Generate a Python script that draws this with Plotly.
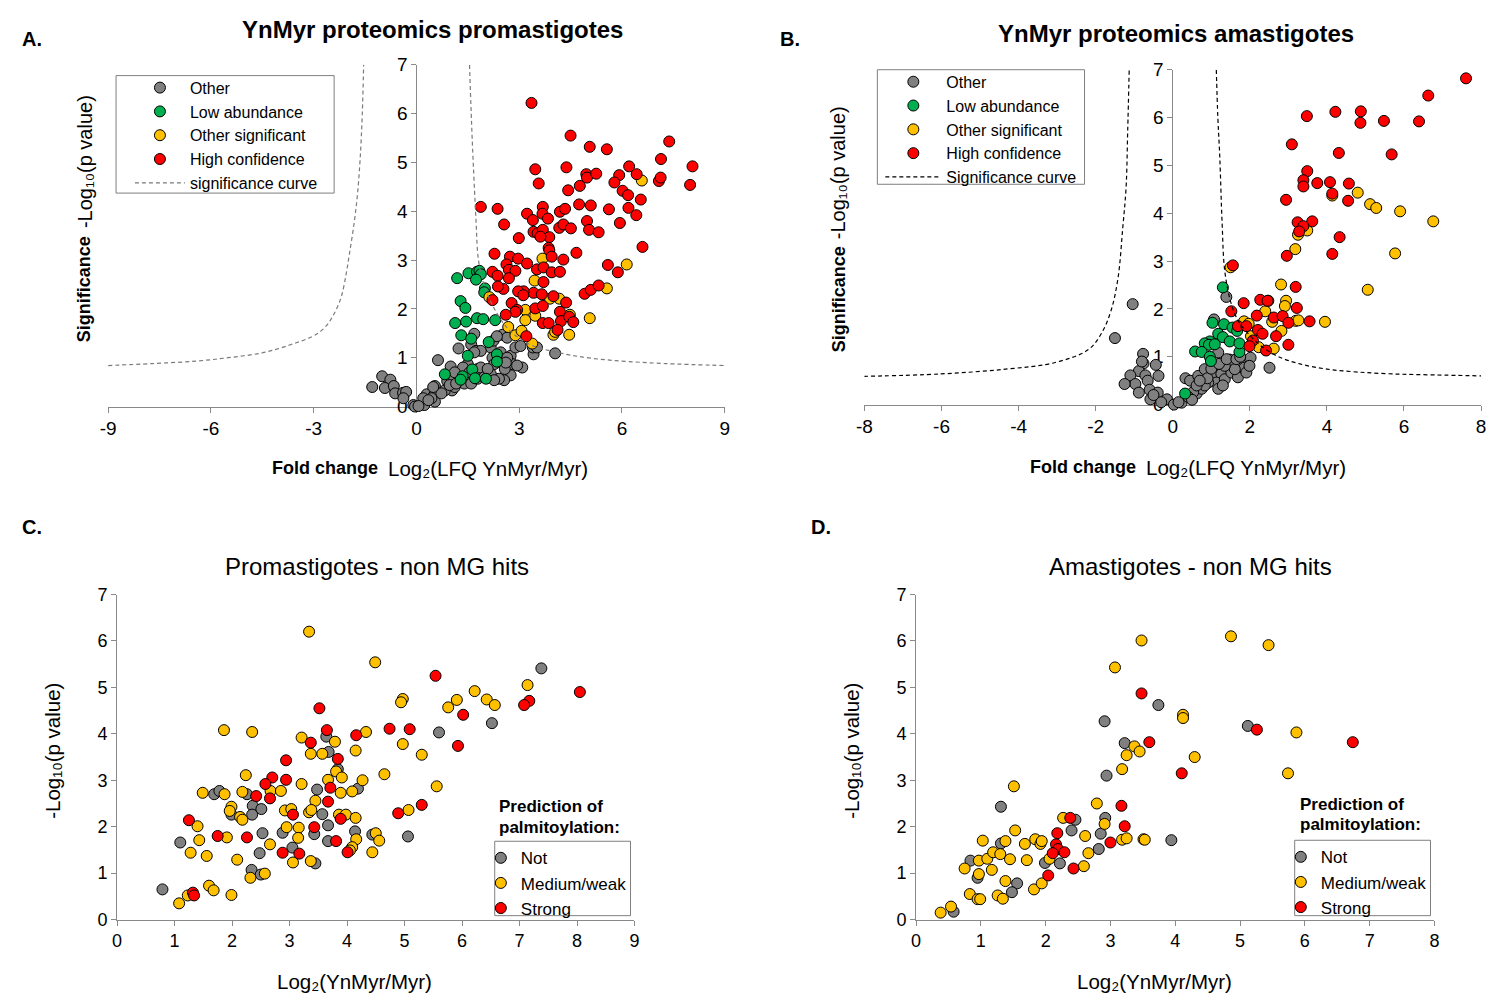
import plotly.graph_objects as go

# ---------------- DATA ----------------
# Panel A: YnMyr proteomics promastigotes  (log2 fold change, -log10 p)
A_other = [(-1.29,0.40),(-1.00,0.62),(-0.76,0.55),(-0.92,0.38),(-0.66,0.42),(-0.62,0.27),(-0.39,0.28),(-0.30,0.30),
           (-0.38,0.17),(-0.09,0.03),(-0.04,0.00),(0.23,0.03),(0.30,0.25),(0.54,0.27),(0.54,0.42),(0.54,0.10),
           (0.63,0.95),(1.00,0.82),(0.90,0.52),(1.10,0.60),(1.04,0.33),(1.12,0.40),(1.23,1.19),(1.69,1.49),
           (1.60,1.27),(1.74,1.14),(1.50,0.87),(1.36,0.80),(1.55,0.70),(1.40,0.47),(1.60,0.47),(1.79,0.57),
           (1.79,0.77),(1.88,0.80),(2.17,1.21),(2.25,1.35),(2.22,1.00),(2.46,1.11),(2.51,1.47),(2.65,1.41),
           (2.75,1.04),(2.80,0.87),(2.89,1.21),(3.04,1.24),(3.09,0.80),(2.75,0.64),(2.56,0.54),(2.41,0.57),
           (3.42,1.07),(3.40,1.21),(3.52,1.21),(4.05,1.09),(2.27,0.87),(2.17,0.67),(1.98,0.60),(0.83,0.33),
           (0.73,0.27),(0.44,0.17),(0.20,0.17),(0.97,0.44),(1.16,0.47),(2.08,0.77),(2.58,0.77),(2.65,1.00),
           (2.61,0.90),(2.94,0.84),(2.27,0.54),(0.49,0.40),(0.35,0.13),(0.06,0.01),(1.12,0.70),(1.88,1.14),
           (1.69,1.11),(2.35,1.44)]
A_low = [(1.19,2.63),(1.52,2.73),(1.77,2.76),(1.84,2.78),(1.88,2.71),(1.74,2.60),(2.00,2.42),(1.98,2.34),
         (1.29,2.16),(1.43,2.02),(1.45,1.74),(1.13,1.71),(1.77,1.81),(1.95,1.79),(2.30,1.77),(1.31,1.46),
         (1.60,1.39),(2.11,1.32),(1.50,1.04),(2.35,1.07),(2.35,0.92),(0.83,0.66),(1.35,0.62),(1.29,0.55),
         (1.63,0.76),(1.71,0.58),(2.03,0.57)]
A_sig = [(3.68,3.03),(3.45,2.58),(6.58,4.63),(6.14,2.91),(5.56,2.42),(5.06,1.81),(4.46,1.47),(4.00,1.47),
         (4.05,1.53),(3.38,1.29),(3.18,1.98),(3.18,1.77),(3.47,1.86),(2.68,1.63),(2.89,1.46),(3.07,1.55),
         (3.90,2.21),(4.17,2.21),(2.13,2.24),(4.48,1.88)]
A_high = [(3.36,6.22),(4.50,5.55),(5.06,5.32),(5.56,5.27),(7.38,5.43),(3.47,4.86),(4.38,4.90),(3.57,4.57),
          (4.96,4.76),(4.98,4.69),(5.25,4.77),(5.92,4.74),(6.21,4.92),(6.43,4.76),(7.14,5.07),(8.06,4.92),
          (7.08,4.62),(7.13,4.69),(7.99,4.54),(5.78,4.59),(6.02,4.42),(6.18,4.33),(4.43,4.43),(4.77,4.52),
          (1.88,4.09),(2.37,4.05),(2.56,3.73),(3.23,3.95),(3.40,3.82),(3.69,4.09),(3.68,3.95),(3.84,3.85),
          (2.99,3.45),(3.42,3.58),(3.54,3.55),(3.69,3.62),(3.88,3.47),(3.62,3.48),(4.19,3.99),(4.34,4.05),
          (4.17,3.66),(4.29,3.73),(4.51,3.65),(4.75,4.14),(5.09,4.12),(4.98,3.80),(5.04,3.62),(5.32,3.57),
          (5.62,4.04),(5.94,3.76),(6.55,4.24),(6.19,4.07),(6.42,3.92),(6.60,3.27),(3.86,3.25),(3.88,3.20),
          (3.95,3.07),(2.28,3.13),(2.73,3.07),(2.97,3.03),(3.23,2.93),(3.52,2.81),(3.71,2.85),(4.29,3.01),
          (4.67,3.15),(2.22,2.76),(2.37,2.68),(2.63,2.91),(2.70,2.80),(2.89,2.78),(2.70,2.63),(2.54,2.41),
          (2.38,2.46),(2.22,2.18),(3.95,2.75),(4.19,2.76),(4.00,2.26),(3.71,2.55),(3.42,2.33),(3.13,2.36),
          (2.97,2.36),(3.12,2.28),(3.66,2.30),(4.37,2.13),(2.78,2.12),(2.94,1.98),(3.47,2.01),(3.69,2.06),
          (2.89,1.94),(2.61,1.88),(3.69,1.71),(3.86,1.71),(4.19,1.94),(4.22,1.75),(4.46,1.84),(4.58,1.73),
          (4.12,1.57),(4.91,2.31),(5.09,2.39),(5.32,2.48),(5.59,2.90),(5.88,2.75),(3.21,1.44)]
A_curve_left = [(-9.0,0.84),(-7.7,0.88),(-6.44,0.93),(-5.5,1.0),(-4.5,1.10),(-3.7,1.26),(-3.05,1.43),
                (-2.8,1.54),(-2.6,1.68),(-2.45,1.84),(-2.3,2.05),(-2.18,2.28),(-2.05,2.72),(-1.95,3.15),
                (-1.82,3.75),(-1.72,4.35),(-1.64,5.1),(-1.58,6.0),(-1.54,7.0)]
A_curve_right = [(1.55,7.0),(1.60,6.0),(1.64,5.29),(1.74,3.82),(1.81,3.01),(1.98,2.48),(2.27,2.01),
                 (2.65,1.61),(3.0,1.40),(3.42,1.24),(4.38,1.07),(5.1,0.99),(5.83,0.94),(7.27,0.88),(9.0,0.84)]

# Panel B: YnMyr proteomics amastigotes
B_other = [(-1.04,2.10),(-1.50,1.39),(-0.77,1.06),(-0.76,0.86),(-0.44,0.83),(-0.37,0.60),(-0.88,0.70),
           (-1.10,0.61),(-0.71,0.61),(-0.97,0.43),(-1.25,0.43),(-0.65,0.50),(-0.60,0.31),(-0.88,0.25),
           (-0.39,0.25),(-0.58,0.11),(-0.15,0.11),(0.03,0.00),(0.23,0.04),(0.33,0.55),(0.45,0.50),(0.62,0.23),
           (0.66,0.60),(0.83,0.74),(1.07,1.78),(1.18,1.09),(1.39,2.25),(1.48,0.94),(1.50,0.84),(1.78,0.83),
           (1.86,0.77),(2.02,0.98),(2.51,0.77),(1.09,0.64),(1.26,0.64),(1.13,0.46),(1.35,0.53),(1.52,0.67),
           (1.69,0.57),(1.91,0.67),(1.99,0.81),(0.92,0.46),(0.75,0.33),(0.53,0.26),(0.40,0.16),(0.83,0.40),
           (1.18,0.33),(1.61,0.74),(1.35,0.81),(0.62,0.40),(0.15,0.05),(0.90,0.55),(1.00,0.75),(1.20,0.85),
           (1.40,0.95),(1.65,0.95),(1.75,1.00),(0.70,0.50),(1.30,0.40),(0.50,0.10),(-0.30,0.05),(-0.50,0.20),
           (-0.80,0.90)]
B_low = [(1.30,2.45),(1.03,1.71),(1.33,1.68),(1.55,1.61),(1.67,1.54),(1.18,1.48),(1.30,1.41),(1.48,1.32),
         (0.96,1.32),(0.83,1.28),(0.94,1.25),(1.09,1.26),(0.58,1.11),(0.75,1.10),(0.96,1.00),(0.99,0.91),
         (1.73,1.10),(1.73,1.28),(0.32,0.23)]
B_sig = [(4.80,4.43),(5.12,4.19),(5.28,4.11),(5.90,4.04),(6.76,3.83),(5.77,3.16),(5.06,2.40),(3.49,3.64),
         (3.25,3.55),(3.18,3.25),(4.14,4.37),(1.50,2.87),(2.81,2.51),(2.94,2.17),(2.91,2.06),(2.40,1.95),
         (2.48,2.17),(1.85,1.74),(1.97,1.69),(2.58,1.73),(3.19,1.75),(3.26,1.76),(3.95,1.73),(2.82,1.54),
         (2.23,1.20),(2.62,1.17),(2.03,1.43)]
B_high = [(7.61,6.82),(6.63,6.46),(3.48,6.03),(4.22,6.12),(4.88,6.13),(4.87,5.89),(5.48,5.93),(6.39,5.92),
          (3.09,5.44),(4.31,5.26),(5.68,5.23),(3.49,4.88),(3.39,4.69),(3.39,4.56),(3.75,4.63),(4.08,4.65),
          (4.57,4.62),(4.14,4.41),(4.55,4.26),(2.94,4.28),(3.24,3.81),(3.62,3.83),(3.39,3.73),(3.28,3.62),
          (4.33,3.50),(2.96,3.11),(4.14,3.15),(1.56,2.91),(3.19,2.46),(1.84,2.12),(2.27,2.19),(2.46,2.17),
          (1.52,1.95),(2.18,1.86),(3.22,2.02),(2.62,1.82),(2.85,1.85),(3.00,1.71),(3.55,1.74),(1.69,1.64),
          (1.91,1.64),(2.21,1.56),(2.33,1.48),(2.68,1.43),(2.08,1.34),(1.99,1.22),(2.42,1.13),(3.00,1.25)]
B_curve_left = [(-8.02,0.59),(-6.05,0.64),(-4.34,0.74),(-3.05,0.88),(-2.19,1.15),(-1.85,1.49),(-1.60,1.97),
                (-1.42,2.65),(-1.30,3.67),(-1.21,4.56),(-1.17,5.7),(-1.13,7.0)]
B_curve_right = [(1.13,7.0),(1.17,6.0),(1.22,5.18),(1.28,3.81),(1.35,2.79),(1.52,2.10),(1.70,1.75),
                 (1.95,1.49),(2.30,1.22),(2.72,1.01),(3.30,0.85),(4.01,0.74),(4.80,0.68),(5.73,0.64),
                 (6.80,0.62),(8.0,0.60)]

# Panel C: Promastigotes - non MG hits
C_not = [(0.79,0.65),(1.10,1.66),(1.69,2.70),(1.78,2.77),(2.26,2.70),(2.36,2.45),(2.51,2.38),(2.35,2.26),
         (1.99,2.26),(2.53,1.86),(2.48,1.43),(2.34,1.07),(2.50,0.97),(3.64,3.94),(3.68,3.61),(3.84,3.24),
         (3.48,2.80),(3.57,2.27),(3.67,2.03),(3.43,1.84),(2.88,1.87),(3.05,1.55),(3.67,1.69),(3.45,1.21),
         (4.14,1.90),(4.44,1.83),(4.19,2.82),(5.06,1.79),(5.60,4.03),(6.52,4.23),(7.38,5.41)]
C_med = [(3.34,6.20),(4.49,5.54),(6.22,4.92),(5.91,4.73),(5.76,4.57),(6.43,4.74),(6.57,4.62),(7.14,5.05),
         (4.97,4.75),(4.94,4.68),(1.86,4.08),(2.35,4.04),(3.21,3.92),(3.79,3.83),(4.33,4.04),(4.15,3.64),
         (3.37,3.57),(3.57,3.57),(4.97,3.78),(5.30,3.55),(4.65,3.13),(3.81,3.19),(3.91,3.06),(3.67,3.01),
         (4.27,3.00),(3.21,2.92),(2.24,3.11),(1.49,2.73),(1.87,2.70),(2.18,2.75),(2.67,2.77),(2.85,2.77),
         (3.89,2.73),(4.09,2.76),(3.45,2.56),(5.56,2.87),(1.99,2.43),(1.96,2.34),(2.14,2.21),(2.18,2.15),
         (2.92,2.35),(3.03,2.38),(3.34,2.31),(3.38,2.36),(3.86,2.26),(3.98,2.26),(4.15,2.19),(5.07,2.36),
         (2.95,1.99),(3.16,1.98),(3.15,1.76),(1.40,2.01),(1.43,1.71),(1.91,1.77),(2.66,1.62),(4.16,1.73),
         (4.50,1.86),(4.56,1.70),(4.09,1.56),(4.05,1.49),(4.44,1.45),(1.28,1.44),(1.56,1.37),(2.09,1.29),
         (3.06,1.23),(3.37,1.26),(2.32,0.90),(2.57,0.99),(1.60,0.73),(1.68,0.63),(1.99,0.53),(1.23,0.52),
         (1.08,0.35)]
C_strong = [(5.54,5.25),(8.05,4.90),(7.17,4.71),(7.08,4.62),(6.02,4.41),(3.52,4.55),(3.65,4.08),(4.16,3.97),
            (4.74,4.11),(5.09,4.10),(5.93,3.74),(3.37,3.81),(3.84,3.46),(2.94,3.43),(2.70,3.06),(2.58,2.92),
            (2.94,3.01),(3.71,2.84),(2.42,2.66),(2.66,2.61),(3.67,2.54),(3.06,2.26),(3.89,2.17),(3.43,1.99),
            (1.25,2.14),(1.75,1.80),(2.26,1.77),(3.81,1.69),(2.88,1.44),(3.17,1.42),(4.01,1.45),(4.89,2.29),
            (5.30,2.47),(1.32,0.58),(1.34,0.52)]

# Panel D: Amastigotes - non MG hits
D_not = [(0.58,0.17),(0.84,1.27),(0.95,0.90),(1.31,2.43),(1.31,1.64),(1.56,0.78),(1.48,0.59),(1.99,1.22),
         (2.22,1.21),(2.40,1.92),(2.46,2.15),(2.82,1.52),(2.85,1.85),(2.92,2.19),(2.91,4.27),(2.94,3.10),
         (3.22,3.80),(3.74,4.62),(3.94,1.71),(5.12,4.17)]
D_med = [(0.38,0.15),(0.54,0.28),(0.75,1.10),(0.83,0.55),(0.95,0.44),(0.99,0.44),(0.97,0.98),(0.97,1.27),
         (1.03,1.70),(1.10,1.31),(1.19,1.45),(1.17,1.07),(1.30,1.41),(1.38,1.69),(1.26,0.52),(1.34,0.45),
         (1.38,0.83),(1.45,1.30),(1.53,1.92),(1.51,2.87),(1.68,1.63),(1.71,1.28),(1.84,1.73),(1.92,1.63),
         (1.94,1.69),(1.82,0.65),(1.94,0.78),(2.06,1.31),(2.27,2.19),(2.61,1.80),(2.66,1.43),(2.59,1.15),
         (2.79,2.50),(2.91,2.06),(3.18,3.24),(3.25,3.54),(3.37,3.73),(3.45,3.62),(3.18,1.72),(3.25,1.75),
         (3.51,1.73),(3.53,1.72),(3.07,5.43),(3.48,6.01),(4.86,6.10),(5.44,5.91),(4.12,4.41),(4.12,4.34),
         (4.30,3.50),(5.87,4.03),(5.74,3.15)]
D_strong = [(3.48,4.87),(3.60,3.82),(4.10,3.15),(5.26,4.09),(6.74,3.82),(3.17,2.45),(3.22,2.01),(3.00,1.66),
            (2.18,1.86),(2.38,2.19),(2.16,1.62),(2.19,1.52),(2.11,1.43),(2.29,1.45),(2.04,0.95),(2.43,1.10)]

# tick labels (hyphen minus as in the original)
A_ticks = [-9, -6, -3, 0, 3, 6, 9]
A_ticklabels = ["-9", "-6", "-3", "0", "3", "6", "9"]
B_ticks = [-8, -6, -4, -2, 0, 2, 4, 6, 8]
B_ticklabels = ["-8", "-6", "-4", "-2", "0", "2", "4", "6", "8"]

# ---------------- STYLE ----------------
W, H = 1492, 1005
FONT = "Arial, 'Liberation Sans', sans-serif"
GRAY, GREEN, YELLOW, RED = "#808080", "#00b050", "#ffc000", "#ff0000"


def px_x(p):
    return p / W


def px_y(p):
    return 1 - p / H


def xs(pts):
    return [p[0] for p in pts]


def ys(pts):
    return [p[1] for p in pts]


def curve(left, right):
    return xs(left) + [None] + xs(right), ys(left) + [None] + ys(right)


fig = go.Figure()


def add_pts(pts, name, color, xa, ya, legend, size=11):
    fig.add_trace(go.Scatter(
        x=xs(pts), y=ys(pts), mode="markers", name=name, xaxis=xa, yaxis=ya, legend=legend,
        cliponaxis=False,
        marker=dict(size=size, color=color, line=dict(color="black", width=1)),
    ))


# Panel A
add_pts(A_other, "Other", GRAY, "x", "y", "legend")
add_pts(A_low, "Low abundance", GREEN, "x", "y", "legend")
add_pts(A_sig, "Other significant", YELLOW, "x", "y", "legend")
add_pts(A_high, "High confidence", RED, "x", "y", "legend")
cx, cy = curve(A_curve_left, A_curve_right)
fig.add_trace(go.Scatter(x=cx, y=cy, mode="lines", name="significance curve", xaxis="x", yaxis="y",
                         legend="legend", line=dict(color="#7a7a7a", width=1.2, dash="4px,3px", shape="spline"),
                         connectgaps=False))

# Panel B
add_pts(B_other, "Other", GRAY, "x2", "y2", "legend2")
add_pts(B_low, "Low abundance", GREEN, "x2", "y2", "legend2")
add_pts(B_sig, "Other significant", YELLOW, "x2", "y2", "legend2")
add_pts(B_high, "High confidence", RED, "x2", "y2", "legend2")
cx, cy = curve(B_curve_left, B_curve_right)
fig.add_trace(go.Scatter(x=cx, y=cy, mode="lines", name="Significance curve", xaxis="x2", yaxis="y2",
                         legend="legend2", line=dict(color="black", width=1.2, dash="4px,3px", shape="spline"),
                         connectgaps=False))

# Panel C
add_pts(C_not, "Not", GRAY, "x3", "y3", "legend3")
add_pts(C_med, "Medium/weak", YELLOW, "x3", "y3", "legend3")
add_pts(C_strong, "Strong", RED, "x3", "y3", "legend3")

# Panel D
add_pts(D_not, "Not", GRAY, "x4", "y4", "legend4")
add_pts(D_med, "Medium/weak", YELLOW, "x4", "y4", "legend4")
add_pts(D_strong, "Strong", RED, "x4", "y4", "legend4")

axis_common = dict(showline=True, linecolor="#898989", linewidth=1, ticks="outside", ticklen=5,
                   tickcolor="#898989", tickwidth=1, showgrid=False, zeroline=False, layer="below traces",
                   fixedrange=True)
tf19 = dict(size=19, color="black", family=FONT)
tf18 = dict(size=18, color="black", family=FONT)

legend_common = dict(borderwidth=0, bgcolor="rgba(0,0,0,0)", tracegroupgap=0,
                     xanchor="left", yanchor="top")

fig.update_layout(
    width=W, height=H, margin=dict(l=0, r=0, t=0, b=0), autosize=False,
    paper_bgcolor="white", plot_bgcolor="rgba(0,0,0,0)",
    font=dict(family=FONT, color="black"),
    xaxis=dict(axis_common, domain=[px_x(101), px_x(723)], range=[-9, 9], tickvals=A_ticks,
               ticktext=A_ticklabels, anchor="y", tickfont=tf19),
    yaxis=dict(axis_common, domain=[px_y(405), px_y(56)], range=[0, 7], dtick=1, anchor="free",
               position=px_x(412), tickfont=tf19),
    xaxis2=dict(axis_common, domain=[px_x(864), px_x(1486)], range=[-8, 8], tickvals=B_ticks,
                ticktext=B_ticklabels, anchor="y2", tickfont=tf19),
    yaxis2=dict(axis_common, domain=[px_y(403), px_y(61)], range=[0, 7], dtick=1, anchor="free",
                position=px_x(1174.5), tickfont=tf19),
    xaxis3=dict(axis_common, domain=[px_x(110), px_x(632)], range=[0, 9], dtick=1, anchor="y3", tickfont=tf18),
    yaxis3=dict(axis_common, domain=[px_y(929), px_y(597)], range=[0, 7], dtick=1, anchor="x3", tickfont=tf18),
    xaxis4=dict(axis_common, domain=[px_x(916), px_x(1439)], range=[0, 8], dtick=1, anchor="y4", tickfont=tf18),
    yaxis4=dict(axis_common, domain=[px_y(929), px_y(597)], range=[0, 7], dtick=1, anchor="x4", tickfont=tf18),
    legend=dict(legend_common, x=px_x(123), y=px_y(62), font=dict(size=16, family=FONT, color="black"),
                itemwidth=50),
    legend2=dict(legend_common, x=px_x(880), y=px_y(56), font=dict(size=16, family=FONT, color="black"),
                 itemwidth=56),
    legend3=dict(legend_common, x=px_x(477), y=px_y(848),
                 font=dict(size=17, family=FONT, color="black"), itemwidth=30),
    legend4=dict(legend_common, x=px_x(1284), y=px_y(847),
                 font=dict(size=17, family=FONT, color="black"), itemwidth=30),
    showlegend=True,
)

# legend frames
for (x0, y0, x1, y1) in [(109, 67, 329, 187), (877, 61, 1086, 178), (491, 849, 628, 925), (1298, 848, 1435, 925)]:
    fig.add_shape(type="rect", xref="paper", yref="paper", x0=px_x(x0), x1=px_x(x1), y0=px_y(y1), y1=px_y(y0),
                  line=dict(color="#7f7f7f", width=1), fillcolor="white", layer="below")


def ann(text, x, y, size, xanchor="center", yanchor="middle", angle=0, bold=False):
    fig.add_annotation(text=text, x=px_x(x), y=px_y(y), xref="paper", yref="paper", showarrow=False,
                       xanchor=xanchor, yanchor=yanchor, textangle=angle,
                       font=dict(size=size, family=FONT, color="black", weight="bold" if bold else "normal"))


# panel letters
ann("A.", 12, 30, 20, xanchor="left", bold=True)
ann("B.", 777, 30, 20, xanchor="left", bold=True)
ann("C.", 12, 528, 20, xanchor="left", bold=True)
ann("D.", 808, 528, 20, xanchor="left", bold=True)
# titles
ann("YnMyr proteomics promastigotes", 428, 20, 24, bold=True)
ann("YnMyr proteomics amastigotes", 1178, 24, 24, bold=True)
ann("Promastigotes - non MG hits", 372, 568, 24)
ann("Amastigotes - non MG hits", 1193, 568, 24)
# axis titles (bold part + regular part)
ann("Fold change", 264, 468, 18, xanchor="left", bold=True)
ann("Log₂(LFQ YnMyr/Myr)", 587, 468, 20.5, xanchor="right")
ann("Fold change", 1029, 467, 18, xanchor="left", bold=True)
ann("Log₂(LFQ YnMyr/Myr)", 1352, 467, 20.5, xanchor="right")
ann("Significance", 77, 341, 18, yanchor="bottom", angle=-90, bold=True)
ann("-Log₁₀(p value)", 77, 85, 20, yanchor="top", angle=-90)
ann("Significance", 838, 352, 18, yanchor="bottom", angle=-90, bold=True)
ann("-Log₁₀(p value)", 838, 96, 20, yanchor="top", angle=-90)
ann("Log₂(YnMyr/Myr)", 350, 992, 20.5)
ann("Log₂(YnMyr/Myr)", 1157, 992, 20.5)
ann("-Log₁₀(p value)", 45, 757, 20.5, angle=-90)
ann("-Log₁₀(p value)", 851, 757, 20.5, angle=-90)
# legend titles (C, D)
ann("Prediction of", 493, 814, 17, xanchor="left", bold=True)
ann("palmitoylation:", 493, 835, 17, xanchor="left", bold=True)
ann("Prediction of", 1301, 811, 17, xanchor="left", bold=True)
ann("palmitoylation:", 1301, 832, 17, xanchor="left", bold=True)

fig.write_html("out.html", config={"displayModeBar": False},
               post_script="document.body.style.margin='0';document.body.style.overflow='hidden';")
